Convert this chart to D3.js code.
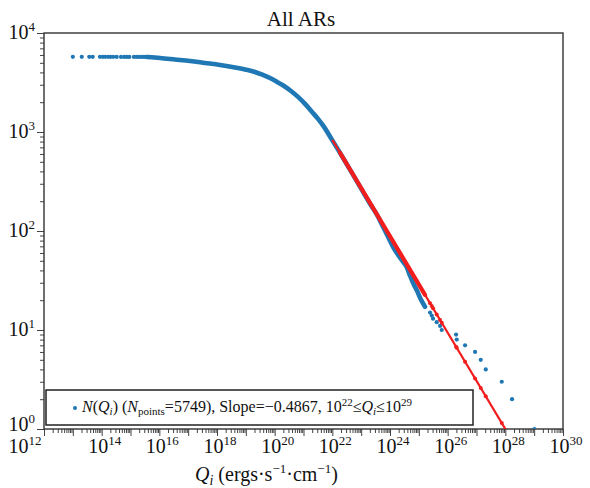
<!DOCTYPE html>
<html>
<head>
<meta charset="utf-8">
<script src="https://cdn.jsdelivr.net/npm/d3@7"></script>
<style>
body{margin:0;background:#fff;}
</style>
</head>
<body>
<div id="chart-area"></div>
<script>
// sparse points at the top-left plateau (log10 Q, N)
var flatLogQ=[13.0,13.31,13.57,13.69,13.94,14.04,14.13,14.23,14.31,14.40,14.52,14.67,14.78,14.87,14.96,15.12,15.21,15.30,15.39,15.47,15.56];
var flatN=[5749,5748,5747,5746,5745,5744,5743,5742,5741,5740,5739,5738,5737,5736,5735,5734,5733,5732,5731,5730,5729];

// dense part of the cumulative curve (log10 Q, N)
var denseLogQ=[15.573,16.024,16.544,17.064,17.585,18.105,18.625,18.972,19.319,19.596,19.839,20.082,20.325,20.567,20.810,21.053,21.296,21.504,21.712,21.990,22.267,22.544,22.822,23.065,23.308,23.550,23.758,23.932,24.105,24.279,24.452,24.591,24.695,24.799,24.938,25.077,25.215];
var denseN=[5725,5594,5403,5218,4982,4755,4487,4283,4042,3769,3514,3203,2919,2598,2261,1921,1595,1356,1126,832,615,450,328.6,248.7,188.2,145.7,110.3,87.4,69.3,57.5,48.9,42.5,35.3,30.0,24.9,20.2,17.2];

// sparse tail (log10 Q, N)
var tailLogQ=[25.389,25.448,25.493,25.621,25.736,25.795,26.291,26.315,26.603,26.950,27.147,27.321,27.876,28.233,29.007];
var tailN=[15,14,13,12,11,10,9,8,7,6,5,4,3,2,1];

// power-law fit
var fitSlope=-0.4867;
var fitN0=832;          // N at Q = 10^22
var fitRange=[22,29];

var xExp=[12,13,14,15,16,17,18,19,20,21,22,23,24,25,26,27,28,29,30];
var xLabelExp=[12,14,16,18,20,22,24,26,28,30];
var yExp=[0,1,2,3,4];

var W=590,H=488;
var L=44,R=563,T=33,B=429;
var blue="#1f77b4", red="#f21d1d";

var svg=d3.select("#chart-area").append("svg")
    .attr("width",W)
    .attr("height",H)
    .attr("font-family","'Liberation Serif','Times New Roman',Times,serif")
    .attr("fill","#111");

var x=d3.scaleLog().domain([1e12,1e30]).range([L,R]);
var y=d3.scaleLog().domain([1,1e4]).range([B,T]);

svg.append("defs").append("clipPath").attr("id","clip")
  .append("rect").attr("x",L).attr("y",T).attr("width",R-L).attr("height",B-T);

// minor tick values
var xMinor=[],yMinor=[];
xExp.slice(0,-1).forEach(function(e){for(var k=2;k<10;k++)xMinor.push(k*Math.pow(10,e));});
yExp.slice(0,-1).forEach(function(e){for(var k=2;k<10;k++)yMinor.push(k*Math.pow(10,e));});

function styleAxis(sel){
  sel.select(".domain").remove();
  sel.selectAll("line").attr("stroke","#444").attr("stroke-width",1);
  sel.selectAll("text").remove();
}

svg.append("g").attr("transform","translate(0,"+B+")")
  .call(d3.axisBottom(x).tickValues(xMinor).tickSize(4)).call(styleAxis);
svg.append("g").attr("transform","translate(0,"+B+")")
  .call(d3.axisBottom(x).tickValues(xExp.map(function(e){return Math.pow(10,e);})).tickSize(7)).call(styleAxis);
svg.append("g").attr("transform","translate("+L+",0)")
  .call(d3.axisLeft(y).tickValues(yMinor).tickSize(4)).call(styleAxis);
svg.append("g").attr("transform","translate("+L+",0)")
  .call(d3.axisLeft(y).tickValues(yExp.map(function(e){return Math.pow(10,e);})).tickSize(7)).call(styleAxis);

// tick labels as 10 with superscript
function powLabel(g,e){
  g.append("tspan").attr("font-size","20px").text("10");
  g.append("tspan").attr("font-size","13px").attr("dy","-8").text(e);
}
xLabelExp.forEach(function(e,i){
  var t=svg.append("text")
    .attr("x",x(Math.pow(10,e))+(i==0?-19:3))
    .attr("y",453)
    .attr("text-anchor","middle");
  powLabel(t,e);
});
yExp.forEach(function(e){
  var t=svg.append("text")
    .attr("x",35)
    .attr("y",y(Math.pow(10,e))+(e==0?2:6))
    .attr("text-anchor","end");
  powLabel(t,e);
});

// frame
svg.append("rect")
  .attr("x",L).attr("y",T).attr("width",R-L).attr("height",B-T)
  .attr("fill","none").attr("stroke","#333").attr("stroke-width",1.4);

var plot=svg.append("g").attr("clip-path","url(#clip)");

// blue data
var dense=denseLogQ.map(function(q,i){return {q:q,n:denseN[i]};});
var flat=flatLogQ.map(function(q,i){return {q:q,n:flatN[i]};});
var tail=tailLogQ.map(function(q,i){return {q:q,n:tailN[i]};});

var line=d3.line()
  .x(function(d){return x(Math.pow(10,d.q));})
  .y(function(d){return y(d.n);})
  .curve(d3.curveMonotoneX);

plot.append("path").datum(dense)
  .attr("d",line)
  .attr("fill","none").attr("stroke",blue)
  .attr("stroke-width",4.6).attr("stroke-linecap","round").attr("stroke-linejoin","round");

plot.selectAll(".pt").data(flat.concat(tail)).enter().append("circle")
  .attr("class","pt")
  .attr("cx",function(d){return x(Math.pow(10,d.q));})
  .attr("cy",function(d){return y(d.n);})
  .attr("r",2.1)
  .attr("fill",blue);

// fit line
function fitN(q){return fitN0*Math.pow(10,fitSlope*(q-22));}
var fitLine=d3.line()
  .x(function(q){return x(Math.pow(10,q));})
  .y(function(q){return y(fitN(q));});

plot.append("path").datum(fitRange)
  .attr("d",fitLine)
  .attr("fill","none").attr("stroke",red).attr("stroke-width",2.2);

var denseFit=denseLogQ.filter(function(q){return q>=fitRange[0];});
plot.append("path").datum([denseFit[0],denseFit[denseFit.length-1]])
  .attr("d",fitLine)
  .attr("fill","none").attr("stroke",red).attr("stroke-width",4.2).attr("stroke-linecap","round");

plot.selectAll(".fm").data(tailLogQ).enter().append("circle")
  .attr("class","fm")
  .attr("cx",function(q){return x(Math.pow(10,q));})
  .attr("cy",function(q){return y(fitN(q));})
  .attr("r",2)
  .attr("fill",red);

// title
svg.append("text")
  .attr("x",301).attr("y",26)
  .attr("text-anchor","middle")
  .attr("font-size","21px")
  .text("All ARs");

// x axis title
var xt=svg.append("text").attr("x",195).attr("y",481).attr("font-size","20px");
xt.append("tspan").attr("font-style","italic").text("Q");
xt.append("tspan").attr("font-style","italic").attr("font-size","14px").attr("dy","4").text("i");
xt.append("tspan").attr("dy","-4").text(" (ergs·s");
xt.append("tspan").attr("font-size","13px").attr("dy","-8").text("−1");
xt.append("tspan").attr("dy","8").text("·cm");
xt.append("tspan").attr("font-size","13px").attr("dy","-8").text("−1");
xt.append("tspan").attr("dy","8").text(")");

// legend
var legend=svg.append("g");
legend.append("rect")
  .attr("x",46).attr("y",390).attr("width",427).attr("height",35)
  .attr("fill","#fff").attr("stroke","#222").attr("stroke-width",1.5);
legend.append("circle").attr("cx",75).attr("cy",408).attr("r",2).attr("fill",blue);
var lt=legend.append("text").attr("x",82).attr("y",412).attr("font-size","16px");
lt.append("tspan").attr("font-style","italic").text("N");
lt.append("tspan").text("(");
lt.append("tspan").attr("font-style","italic").text("Q");
lt.append("tspan").attr("font-style","italic").attr("font-size","11px").attr("dy","3").text("i");
lt.append("tspan").attr("dy","-3").text(") (");
lt.append("tspan").attr("font-style","italic").text("N");
lt.append("tspan").attr("font-size","11px").attr("dy","3").text("points");
lt.append("tspan").attr("dy","-3").text("=5749), Slope=−0.4867, 10");
lt.append("tspan").attr("font-size","11px").attr("dy","-6").text("22");
lt.append("tspan").attr("dy","6").text("≤");
lt.append("tspan").attr("font-style","italic").text("Q");
lt.append("tspan").attr("font-style","italic").attr("font-size","11px").attr("dy","3").text("i");
lt.append("tspan").attr("dy","-3").text("≤10");
lt.append("tspan").attr("font-size","11px").attr("dy","-6").text("29");
</script>
</body>
</html>
